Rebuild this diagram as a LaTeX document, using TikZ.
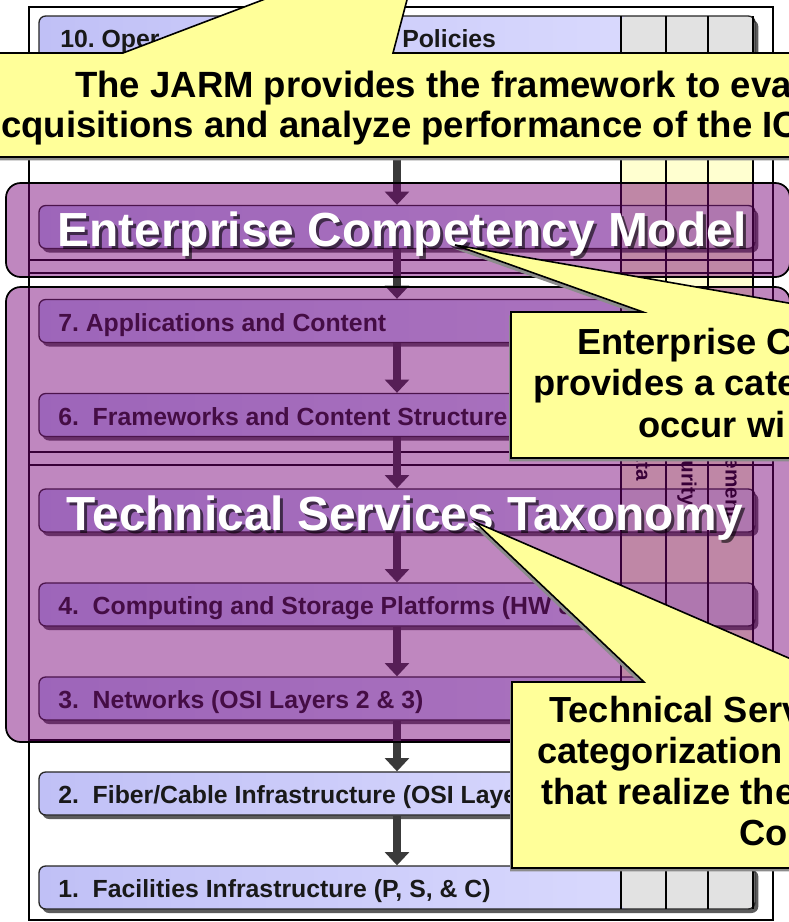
\documentclass[tikz,border=0pt]{standalone}
\usepackage{fontspec}
\setmainfont{Liberation Sans}
\usetikzlibrary{arrows.meta,shadows}
\frenchspacing
\definecolor{lav1}{RGB}{192,192,246}
\definecolor{lav2}{RGB}{222,222,255}
\definecolor{cellgrey}{RGB}{226,226,226}
\definecolor{colyel}{RGB}{255,255,208}
\definecolor{ovpurple}{RGB}{119,0,119}
\definecolor{callyel}{RGB}{255,255,153}
\definecolor{arrowgrey}{RGB}{58,58,58}
\begin{document}
\begin{tikzpicture}[x=0.75pt,y=-0.75pt,
  layerbox/.style={draw=black!85, line width=1pt, rounded corners=5pt, left color=lav1, right color=lav2,
    minimum width=537pt, minimum height=32.25pt, inner sep=0pt,
    drop shadow={shadow xshift=2.5pt, shadow yshift=-3pt, fill=black!75, opacity=0.85},
    path picture={\fill[cellgrey] ([xshift=-100.5pt]path picture bounding box.north east) rectangle (path picture bounding box.south east);}},
  layertext/.style={anchor=base west, inner sep=0pt, font=\fontsize{18.6}{22}\selectfont\bfseries, text=black!90},
  flowarrow/.style={draw=arrowgrey, line width=6pt, -{Triangle[width=18pt,length=10pt]}},
  colline/.style={draw=black, line width=0.8pt},
  groupline/.style={draw=black, line width=1pt},
  collabel/.style={rotate=-90, anchor=east, inner sep=0pt, font=\fontsize{15.5}{18}\selectfont\bfseries, text=black},
  ovbox/.style={draw=black, line width=1.3pt, fill=ovpurple, fill opacity=0.47, rounded corners=11pt, inner sep=0pt, minimum width=588pt},
  bigtext/.style={anchor=base, inner sep=0pt, font=\fontsize{35.9}{40}\selectfont\bfseries, text=white},
  bigshadow/.style={bigtext, text=black, text opacity=0.6},
  callout/.style={draw=black, line width=1.2pt, fill=callyel,
    drop shadow={shadow xshift=-1.5pt, shadow yshift=-2.5pt, fill=black!45, opacity=1}},
  calltext/.style={anchor=base west, inner sep=0pt, font=\fontsize{27.2}{30}\selectfont\bfseries, text=black},
  jtext/.style={calltext, font=\fontsize{27.4}{30}\selectfont\bfseries}
]
\useasboundingbox (0,0) rectangle (789,922);
\clip (0,0) rectangle (789,922);
\fill[white] (0,0) rectangle (789,922);

% column strips
\fill[colyel] (621,16) rectangle (753,909);

% group frames
\draw[groupline] (29,7) rectangle (773,920);
\draw[groupline] (29,7) rectangle (773,260);
\draw[groupline] (29,273) rectangle (773,452);
\draw[groupline] (29,465) rectangle (773,740);

% layer boxes
\foreach \n/\cy in {10/37.5,8/227,7/321,6/415,5/510.5,4/604.5,3/698.5,2/793.5,1/887.5}{
  \node[layerbox] (L\n) at (397,\cy) {};
}

% column lines
\foreach \cx in {621,666,708,753}{
  \draw[colline] (\cx,16) -- (\cx,909);
}

% layer labels
\node[layertext] (T10a) at (60,47.5) {10. Oper};
\node[layertext] (T10b) at (402,47.5) {Policies};
\node[layertext] (T7) at (58,331) {7. Applications and Content};
\node[layertext] (T6) at (58,425) {6.\ \ Frameworks and Content Structure};
\node[layertext] (T4) at (58,614.5) {4.\ \ Computing and Storage Platforms (HW \&};
\node[layertext] (T3) at (58,708.5) {3.\ \ Networks (OSI Layers 2 \& 3)};
\node[layertext] (T2) at (58,803.5) {2.\ \ Fiber/Cable Infrastructure (OSI Laye};
\node[layertext] (T1) at (58,897.5) {1.\ \ Facilities Infrastructure (P, S, \& C)};

% column labels
\node[collabel] (CD) at (643.5,481) {Data};
\node[collabel] (CS) at (687,506) {Security};
\node[collabel] (CM) at (730.5,519) {Management};

% arrows
\coordinate (c9) at (397,154);
\draw[flowarrow] (c9) -- (L8.north);
\draw[flowarrow] (L8.south) -- (L7.north);
\draw[flowarrow] (L7.south) -- (L6.north);
\draw[flowarrow] (L6.south) -- (L5.north);
\draw[flowarrow] (L5.south) -- (L4.north);
\draw[flowarrow] (L4.south) -- (L3.north);
\draw[flowarrow] (L3.south) -- (L2.north);
\draw[flowarrow] (L2.south) -- (L1.north);

% purple overlays
\node[ovbox, minimum height=70.5pt] (ECM) at (398,230) {};
\node[ovbox, minimum height=341.25pt] (TST) at (398,514.5) {};

% big white titles
\node[bigshadow] (ECMs) at (405,249) {Enterprise Competency Model};
\node[bigtext] (ECMt) at (402,246) {Enterprise Competency Model};
\node[bigshadow] (TSTs) at (408,533) {Technical Services Taxonomy};
\node[bigtext] (TSTt) at (405,530) {Technical Services Taxonomy};

% callouts
\path[callout] (-20,53) -- (123,53) -- (423,-61) -- (393,53) -- (830,53) -- (830,157) -- (-20,157) -- cycle;
\node[jtext] (J1) at (75,97) {The JARM provides the framework to eva};
\node[jtext] (J2) at (1,137) {cquisitions and analyze performance of the IC};

\path[callout] (511,312) -- (643,312) -- (455,245) -- (840,312) -- (900,312) -- (900,458) -- (511,458) -- cycle;
\node[calltext] (E1) at (577,354) {Enterprise C};
\node[calltext] (E2) at (533,395) {provides a cate};
\node[calltext] (E3) at (638,437) {occur wi};

\path[callout] (512,682) -- (644,682) -- (475,522) -- (844,682) -- (900,682) -- (900,868) -- (512,868) -- cycle;
\node[calltext] (S1) at (549,722) {Technical Serv};
\node[calltext] (S2) at (537,763) {categorization};
\node[calltext] (S3) at (541,804) {that realize the};
\node[calltext] (S4) at (739,845) {Co};
\end{tikzpicture}
\end{document}
